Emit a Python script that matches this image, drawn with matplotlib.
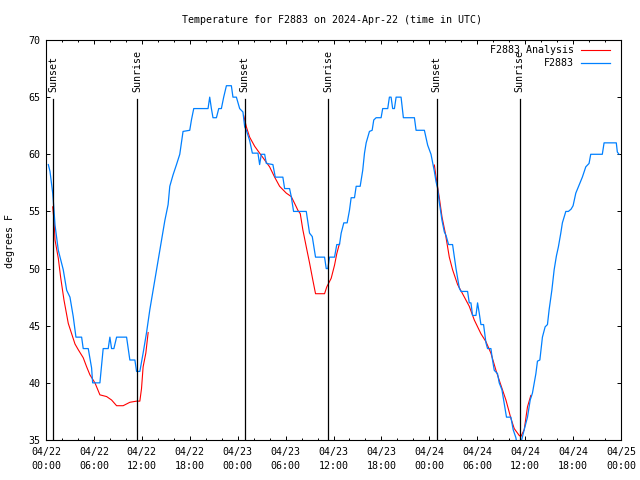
import matplotlib
matplotlib.use("Agg")
import matplotlib.pyplot as plt
import numpy as np

# hours since 2024-04-22 00:00 UTC
obs_hours = [0.29, 0.5, 0.84, 0.91, 1.13, 1.54, 2.16, 2.59, 3.0, 3.41, 3.75, 4.46, 4.66, 5.29,
             5.71, 5.84, 6.75, 7.16, 7.79, 8.0, 8.21, 8.5, 8.84, 10.09, 10.5, 11.13, 11.34, 11.75,
             12.16, 12.59, 13.0, 13.63, 14.25, 14.88, 15.29, 15.5, 15.91, 16.34, 16.75, 17.16,
             18.0, 18.21, 18.5, 20.29, 20.5, 20.71, 20.91, 21.34, 21.63, 21.96, 22.25, 22.59,
             23.21, 23.41, 23.84, 24.25, 24.66, 24.88, 25.09, 25.5, 25.84, 26.54, 26.75, 26.96,
             27.38, 27.59, 28.41, 28.71, 29.66, 29.88, 30.5, 30.71, 31.0, 32.59, 33.0, 33.34,
             33.75, 34.88, 35.09, 35.29, 35.5, 36.13, 36.41, 36.75, 36.96, 37.29, 37.71, 38.0,
             38.21, 38.63, 38.84, 39.34, 39.66, 39.88, 40.09, 40.5, 40.84, 41.04, 41.34, 41.96,
             42.16, 42.79, 43.0, 43.21, 43.41, 43.63, 43.84, 44.46, 44.75, 46.13, 46.34, 47.38,
             47.79, 48.21, 48.63, 48.84, 49.04, 49.25, 49.59, 49.88, 50.09, 50.41, 50.91, 51.34,
             51.75, 51.96, 52.79, 53.0, 53.21, 53.41, 53.84, 54.04, 54.25, 54.46, 54.79, 55.09,
             55.29, 55.71, 55.91, 56.13, 56.54, 56.75, 57.09, 57.38, 57.66, 58.21, 58.5, 58.84,
             59.0, 59.38, 59.66, 59.88, 60.29, 60.63, 60.91, 61.34, 61.54, 61.84, 62.16, 62.5,
             62.79, 63.0, 63.34, 63.63, 63.91, 64.16, 64.46, 64.66, 65.09, 65.41, 65.75, 66.0,
             66.34, 66.75, 67.16, 67.59, 68.0, 68.21, 69.66, 69.88, 71.41, 71.54, 71.75]
obs_temps = [59.1, 58.5, 56.6, 56.0, 53.8, 51.6, 49.9, 48.1, 47.5, 45.8, 44.0, 44.0, 43.0, 43.0,
             41.3, 40.0, 40.0, 43.0, 43.0, 44.0, 43.0, 43.0, 44.0, 44.0, 42.0, 42.0, 41.0, 41.0,
             42.6, 44.4, 46.4, 49.0, 51.6, 54.2, 55.6, 57.2, 58.2, 59.1, 60.0, 62.0,
             62.1, 63.0, 64.0, 64.0, 65.0, 64.0, 63.2, 63.2, 64.0, 64.0, 65.0, 66.0,
             66.0, 65.0, 65.0, 64.0, 63.7, 62.4, 62.1, 61.2, 60.1, 60.1, 59.1, 60.0,
             60.0, 59.2, 59.1, 58.0, 58.0, 57.0, 57.0, 56.3, 55.0, 55.0, 53.1, 52.8,
             51.0, 51.0, 50.0, 50.0, 51.0, 51.0, 52.1, 52.1, 53.1, 54.0, 54.0, 55.1,
             56.2, 56.2, 57.2, 57.2, 58.6, 60.1, 61.0, 62.0, 62.1, 63.0, 63.2, 63.2,
             64.0, 64.0, 65.0, 65.0, 64.0, 64.0, 65.0, 65.0, 63.2, 63.2, 62.1, 62.1,
             60.8, 60.0, 58.5, 57.6, 57.0, 55.8, 54.2, 53.2, 52.9, 52.1, 52.1, 50.0,
             48.3, 48.0, 48.0, 47.0, 47.0, 45.9, 45.9, 47.0, 46.1, 45.1, 45.1, 43.5,
             43.0, 43.0, 42.0, 41.1, 40.8, 40.0, 39.4, 38.2, 37.0, 37.0, 35.9, 35.2,
             34.5, 34.5, 35.3, 35.9, 37.0, 38.5, 39.1, 40.8, 41.9, 42.0, 44.0, 44.9,
             45.1, 46.4, 48.1, 49.9, 51.1, 51.9, 53.1, 54.0, 55.0, 55.0, 55.2, 55.5,
             56.6, 57.3, 58.0, 58.9, 59.2, 60.0, 60.0, 61.0, 61.0, 60.2, 60.0]

# analysis curve, one segment per night
night1_hours = [0.84, 1.0, 1.13, 1.54, 1.84, 2.25, 2.79, 3.21, 3.63, 4.04, 4.66, 5.09, 5.5,
                6.13, 6.75, 7.59, 8.21, 8.84, 9.66, 10.5, 11.34, 11.75, 11.96, 12.16, 12.5, 12.79]
night1_temps = [55.4, 54.25, 52.5, 50.9, 49.2, 47.25, 45.2, 44.3, 43.4, 42.9, 42.2, 41.4, 40.7,
                40.0, 38.95, 38.8, 38.5, 38.0, 38.0, 38.3, 38.4, 38.4, 39.5, 41.4, 42.6, 44.4]
night2_hours = [24.75, 25.09, 25.5, 26.13, 26.75, 27.38, 28.0, 28.63, 29.25, 30.09, 30.71,
                31.34, 31.54, 31.84, 32.16, 32.59, 33.0, 33.41, 33.75, 34.88, 35.16, 35.71,
                36.13, 36.41, 36.75]
night2_temps = [63.4, 62.4, 61.5, 60.7, 60.1, 59.5, 58.9, 58.0, 57.2, 56.6, 56.3,
                55.4, 55.1, 54.8, 53.4, 51.9, 50.5, 49.0, 47.8, 47.8, 48.4, 49.15,
                50.3, 51.3, 52.2]
night3_hours = [48.63, 48.84, 49.25, 49.59, 50.0, 50.5, 50.91, 51.54, 52.16, 53.0, 53.63,
                54.46, 55.09, 55.71, 56.34, 56.96, 57.59, 58.21, 58.63, 59.25, 59.46, 59.88,
                60.29, 60.71]
night3_temps = [59.06, 58.0, 56.2, 54.5, 53.1, 51.0, 49.9, 48.6, 47.8, 46.7, 45.5,
                44.3, 43.6, 42.6, 41.1, 39.8, 38.5, 36.9, 36.0, 35.4, 35.3, 35.9,
                37.9, 38.9]

sunset_hours = [0.9, 24.9, 48.9]
sunrise_hours = [11.4, 35.3, 59.3]

tick_hours = list(range(0, 73, 6))
tick_labels = ["04/22\n00:00", "04/22\n06:00", "04/22\n12:00", "04/22\n18:00",
               "04/23\n00:00", "04/23\n06:00", "04/23\n12:00", "04/23\n18:00",
               "04/24\n00:00", "04/24\n06:00", "04/24\n12:00", "04/24\n18:00",
               "04/25\n00:00"]

plt.rcParams['font.family'] = 'DejaVu Sans Mono'
fs = 7.2
red = '#ff0000'
blue = '#0080ff'

fig = plt.figure(figsize=(6.4, 4.8), dpi=100)
ax = fig.add_axes([46/640, 40/480, 575/640, 400/480])

for h, t in [(night1_hours, night1_temps), (night2_hours, night2_temps),
             (night3_hours, night3_temps)]:
    ax.plot(h, t, color=red, lw=0.8)
ax.plot(obs_hours, obs_temps, color=blue, lw=0.9)

for h in sunset_hours + sunrise_hours:
    ax.axvline(h, ymin=0, ymax=0.853, color='black', lw=0.9)
for h in sunset_hours:
    ax.text(h, 0.87, 'Sunset', transform=ax.get_xaxis_transform(), rotation=90,
            ha='center', va='bottom', fontsize=fs)
for h in sunrise_hours:
    ax.text(h, 0.87, 'Sunrise', transform=ax.get_xaxis_transform(), rotation=90,
            ha='center', va='bottom', fontsize=fs)

ax.set_xlim(0, 72)
ax.set_ylim(35, 70)
ax.set_xticks(tick_hours)
ax.set_xticklabels(tick_labels, linespacing=1.45)
ax.set_xticks(range(0, 73, 2), minor=True)
ax.set_yticks(range(35, 71, 5))
ax.tick_params(which='both', direction='in', top=True, right=True, labelsize=fs)
ax.tick_params(which='major', length=3, width=0.7)
ax.tick_params(which='minor', length=1.6, width=0.7)
ax.tick_params(axis='x', pad=5)
ax.tick_params(axis='y', pad=4)
for s in ax.spines.values():
    s.set_linewidth(0.8)

# legend, gnuplot style (right aligned text)
ax.text(0.918, 0.975, 'F2883 Analysis', transform=ax.transAxes, ha='right', va='center', fontsize=fs)
ax.plot([0.931, 0.981], [0.975, 0.975], transform=ax.transAxes, color=red, lw=0.8)
ax.text(0.918, 0.9425, 'F2883', transform=ax.transAxes, ha='right', va='center', fontsize=fs)
ax.plot([0.931, 0.981], [0.9425, 0.9425], transform=ax.transAxes, color=blue, lw=0.9)

fig.text(332/640, 1 - 20/480, 'Temperature for F2883 on 2024-Apr-22 (time in UTC)',
         ha='center', va='center', fontsize=fs)
fig.text(10/640, 0.498, 'degrees F', rotation=90, ha='center', va='center', fontsize=fs)

fig.savefig('out.png', dpi=100)
